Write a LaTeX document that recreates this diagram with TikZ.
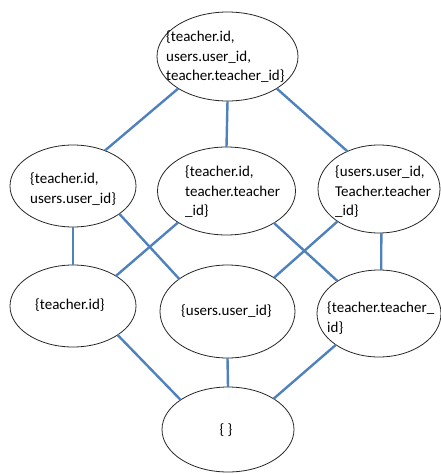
\documentclass[tikz,border=0pt]{standalone}
\usepackage{fontspec}
\setmainfont{Carlito}
\usetikzlibrary{shapes.geometric}
\definecolor{edgeblue}{RGB}{79,129,189}
\begin{document}
\begin{tikzpicture}[x=1pt,y=-1pt,
  oval/.style={ellipse,draw=black!85,line width=0.8pt,fill=white,inner sep=0pt,outer sep=0pt},
  lbl/.style={anchor=west,inner sep=0pt,align=left,font=\fontsize{15}{19.5}\selectfont,text=black},
  link/.style={draw=edgeblue,line width=2.4pt}]
\useasboundingbox (0,0) rectangle (440,474);
% ellipses
\node[oval,minimum width=141,minimum height=89] (T)  at (227.5,56.5) {};
\node[oval,minimum width=126,minimum height=82] (L2) at (73,186) {};
\node[oval,minimum width=138,minimum height=88] (M2) at (226.5,191) {};
\node[oval,minimum width=122,minimum height=88] (R2) at (379,189) {};
\node[oval,minimum width=126,minimum height=82] (L3) at (73,306) {};
\node[oval,minimum width=135,minimum height=93] (M3) at (227.5,311.5) {};
\node[oval,minimum width=124,minimum height=87] (R3) at (379,313.5) {};
\node[oval,minimum width=132,minimum height=85] (B)  at (228,429.5) {};
% connectors
\begin{scope}[on background layer/.style={}]
\draw[link] (T.213) -- (L2.48.6);
\draw[link] (T.south) -- (M2.north);
\draw[link] (T.-33.4) -- (R2.130.7);
\draw[link] (L2.south) -- (L3.north);
\draw[link] (L2.-31.5) -- (M3.146);
\draw[link] (M2.213) -- (L3.35);
\draw[link] (M2.-34) -- (R3.142.5);
\draw[link] (R2.218) -- (M3.36.5);
\draw[link] (R2.-87) -- (R3.87);
\draw[link] (L3.-33.4) -- (B.148);
\draw[link] (M3.south) -- (B.north);
\draw[link] (R3.216) -- (B.34);
\end{scope}
% labels
\node[lbl] (tT)  at (166,57) {\{teacher.id,\\users.user\_id,\\teacher.teacher\_id\}};
\node[lbl] (tL2) at (30,189) {\{teacher.id,\\users.user\_id\}};
\node[lbl] (tM2) at (185,192) {\{teacher.id,\\teacher.teacher\\\_id\}};
\node[lbl] (tR2) at (335,192) {\{users.user\_id,\\Teacher.teacher\\\_id\}};
\node[lbl] (tL3) at (35,305) {\{teacher.id\}};
\node[lbl] (tM3) at (181,311) {\{users.user\_id\}};
\node[lbl] (tR3) at (327,318) {\{teacher.teacher\_\\id\}};
\node[lbl,anchor=center] (tB) at (226,430) {\{ \}};
\end{tikzpicture}
\end{document}
